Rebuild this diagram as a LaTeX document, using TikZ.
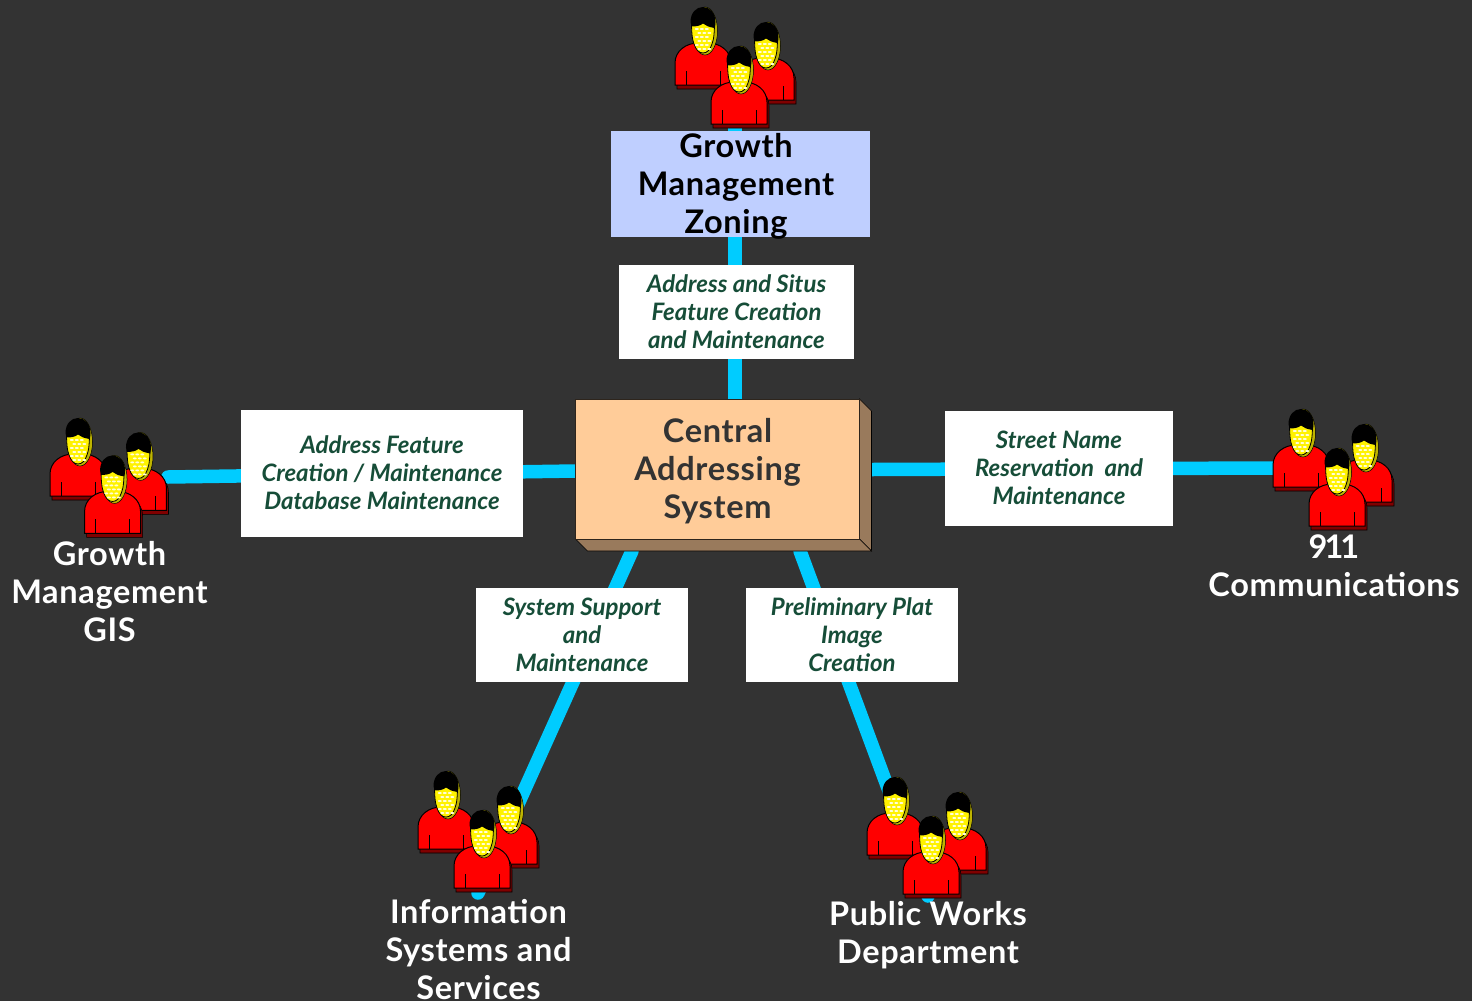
\documentclass[tikz,border=0pt]{standalone}
\usepackage{fontspec}
\usepackage{xcolor}
\setmainfont{Lato}
\usetikzlibrary{positioning, backgrounds}
\definecolor{slatebg}{RGB}{51, 51, 51}
\definecolor{linkcyan}{RGB}{0, 204, 255}
\definecolor{centralpeach}{RGB}{255, 204, 153}
\definecolor{centralshade}{RGB}{153, 122, 92}
\definecolor{zoningblue}{RGB}{191, 207, 255}
\definecolor{taskgreen}{RGB}{22, 77, 56}
\definecolor{shirtshadow}{RGB}{128, 0, 0}
\definecolor{faceback}{RGB}{190, 180, 0}
\newcommand{\groupfont}{\fontsize{32.5}{37.7}\selectfont\bfseries\addfontfeature{LetterSpace=2}}
\newcommand{\taskfont}{\fontsize{24}{28}\selectfont\bfseries\itshape}
\newcommand{\shirtpath}{(-28,78) -- (-28,56) .. controls (-28,44) and (-17,36) .. (-5,36)
            -- (5,36) .. controls (17,36) and (28,44) .. (28,56) -- (28,78) -- cycle}
\tikzset{
    person/.pic={
        \draw[fill=shirtshadow, line width=0.6pt, shift={(2,4)}] \shirtpath;
        \draw[fill=red, line width=1pt] \shirtpath;
        \draw[line width=1pt] (-17,64) -- (-17,78) (17,64) -- (17,78);
        \draw[fill=faceback, line width=0.5pt] (2,24) ellipse (12.5 and 24);
        \draw[fill=yellow, line width=0.8pt] (-11.5,14) .. controls (-11.5,24) and (-11,32) .. (-9,37)
            .. controls (-7,43) and (-4,46) .. (0,46) .. controls (4,46) and (7,43) .. (9,37)
            .. controls (11,32) and (11.5,24) .. (11.5,14) -- cycle;
        \foreach \dotrow/\dotshift in {22/0,26/2.5,30/0,34/2.5,38/0,42/2.5} {
            \foreach \dotcol in {-5,0,5} {
                \fill[yellow!15] (\dotcol+\dotshift-1.2,\dotrow) ellipse (2 and 1);
            }
        }
        \fill[black] (-12.5,15) .. controls (-12.5,6) and (-7,0) .. (0,0) .. controls (7,0) and (12.5,6) .. (12.5,15)
            .. controls (12.5,18) and (12,20) .. (11.5,21) .. controls (6,20) and (3,19) .. (0,16.5)
            .. controls (-3,19) and (-7,19.5) .. (-11.5,19.5) .. controls (-12,18) and (-12.5,17) .. (-12.5,15) -- cycle;
    },
    people/.pic={
        \pic at (0,0) {person};
        \pic at (63,15) {person};
        \pic at (36,39) {person};
    },
    link/.style={line width=13.5pt, linkcyan, line cap=round},
    taskbox/.style={fill=white, text=taskgreen, align=center, font=\taskfont, inner sep=0pt},
    grouplabel/.style={text=white, align=center, font=\groupfont, inner sep=0pt},
    facebox/.style={draw=black, line width=0.6pt, fill=centralshade}
}
\begin{document}
\begin{tikzpicture}[x=1pt, y=-1pt]
    \useasboundingbox (0,0) rectangle (1472,1001);

    % Central box
    \draw[facebox] (859.5,399) -- (871.5,411) -- (871.5,551) -- (859.5,539) -- cycle;
    \draw[facebox] (575.5,539) -- (859.5,539) -- (871.5,551) -- (587.5,551) -- cycle;
    \node[draw=black!70!centralshade, line width=0.6pt, fill=centralpeach, minimum width=284pt, minimum height=140pt, inner sep=0pt] (central) at (717.5,469) {};
    \node[text=slatebg, align=center, font=\groupfont, inner sep=0pt] (centraltext) at (717.5,471) {Central\\Addressing\\System};

    % Connector ends on the central box
    \coordinate (centraltop) at (735,400);
    \coordinate (centralleft) at (576,471);
    \coordinate (centralright) at (872,469.5);
    \coordinate (centralsw) at (632,551);
    \coordinate (centralse) at (800,551);

    % Connector ends at the groups
    \coordinate (zoningend) at (735,125);
    \coordinate (gisend) at (168,477);
    \coordinate (commsend) at (1274,468);
    \coordinate (infoend) at (478,893);
    \coordinate (worksend) at (928,896);

    % Task boxes
    \node[taskbox, minimum width=235pt, minimum height=94pt] (situs) at (736.5,312) {Address and Situs\\Feature Creation\\and Maintenance};
    \node[taskbox, minimum width=282pt, minimum height=127pt] (feature) at (382,473) {Address Feature\\Creation / Maintenance\\Database Maintenance};
    \node[taskbox, minimum width=228pt, minimum height=115pt] (street) at (1059,468) {Street Name\\Reservation~ and\\Maintenance};
    \node[taskbox, minimum width=212pt, minimum height=94pt] (support) at (582,635) {System Support\\and\\Maintenance};
    \node[taskbox, minimum width=212pt, minimum height=94pt] (plat) at (852,635) {Preliminary Plat\\Image\\Creation};

    \begin{scope}[on background layer]
        \fill[slatebg] (0,0) rectangle (1472,1001);
        \draw[link] (centraltop) -- (zoningend);
        \draw[link] (centralleft) -- (gisend);
        \draw[link] (centralright) -- (commsend);
        \draw[link] (centralsw) -- (infoend);
        \draw[link] (centralse) -- (worksend);
    \end{scope}

    % Groups
    \pic at (703,7) {people};
    \pic[scale=0.96] at (78,418) {people};
    \pic at (1301,409) {people};
    \pic at (446,771) {people};
    \pic at (895,777) {people};

    \node[fill=zoningblue, minimum width=259pt, minimum height=106pt, inner sep=0pt] (zoning) at (740.5,184) {};
    \node[align=center, font=\groupfont, inner sep=0pt] (zoningtext) at (736,186.5) {Growth\\Management\\Zoning};
    \node[grouplabel] (gis) at (109.5,591.5) {Growth\\Management\\GIS};
    \node[grouplabel] (comms) at (1334,565.5) {9\kern-3pt 1\kern-3pt 1\\Communications};
    \node[grouplabel] (info) at (478.5,949.5) {Information\\Systems and\\Services};
    \node[grouplabel] (works) at (928,935) {Public Works\\Department};
\end{tikzpicture}
\end{document}
